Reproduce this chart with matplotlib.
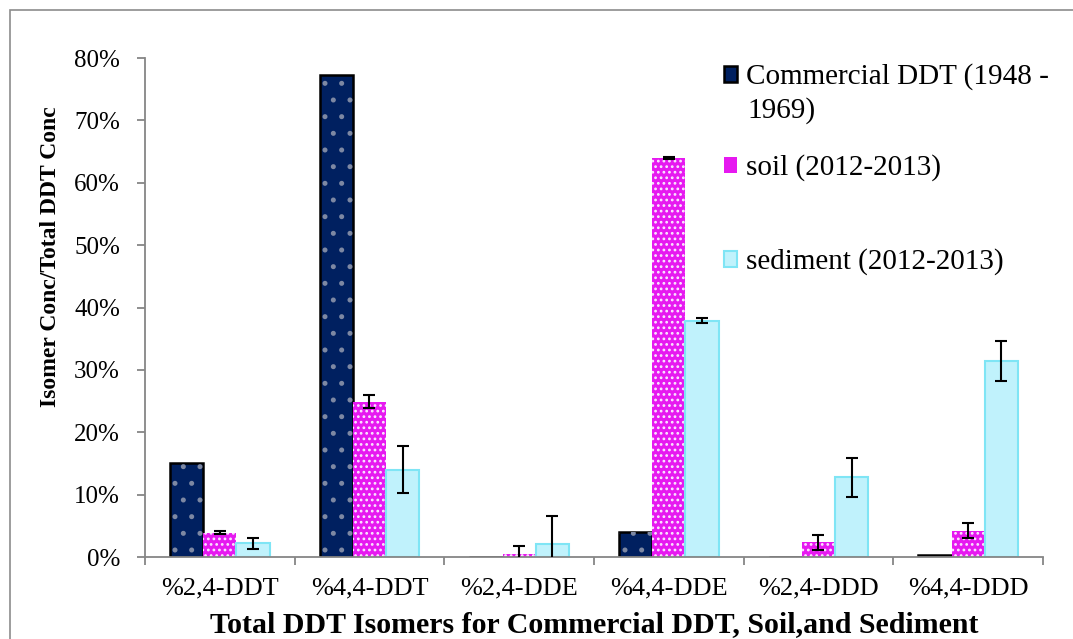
import matplotlib
matplotlib.use('Agg')
import matplotlib.pyplot as plt
from matplotlib.patches import Rectangle
from matplotlib.ticker import PercentFormatter
import numpy as np

plt.rcParams['font.family'] = ['Liberation Serif', 'DejaVu Serif']
plt.rcParams['hatch.linewidth'] = 1.2

# data (fractions of total DDT)
categories = ['%2,4-DDT', '%4,4-DDT', '%2,4-DDE', '%4,4-DDE', '%2,4-DDD', '%4,4-DDD']
commercial = [0.150, 0.772, 0.0, 0.040, 0.0, 0.003]
soil = [0.039, 0.249, 0.005, 0.640, 0.024, 0.042]
soil_err = [0.002, 0.010, 0.012, 0.002, 0.012, 0.012]
sediment = [0.022, 0.140, 0.021, 0.379, 0.128, 0.314]
sediment_err = [0.009, 0.038, 0.045, 0.004, 0.031, 0.032]
labels = ['Commercial DDT (1948 -', 'soil (2012-2013)', 'sediment (2012-2013)']

fig = plt.figure(figsize=(10.73, 6.39), dpi=100)
ax = fig.add_axes([0.1351, 0.1283, 0.8369, 0.7809])

x = np.arange(len(categories))
w = 0.222

# commercial: navy with grey dots
b1 = ax.bar(x - w, commercial, w, color='#002060', edgecolor='black', linewidth=1.8, zorder=2)
ax.bar(x - w, commercial, w, color='none', edgecolor='#7d88a3', linewidth=0, hatch='.', zorder=2)

# soil: magenta with white dot grid
b2 = ax.bar(x, soil, w, color='#e619f0', edgecolor='none', linewidth=0, zorder=2)
ax.bar(x, soil, w, color='none', edgecolor='#fbe6ff', linewidth=0, hatch='...', zorder=2)

# sediment: light cyan
b3 = ax.bar(x + w, sediment, w, color='#c0f2fc', edgecolor='#7fe5f5', linewidth=1.5, zorder=2)

ax.errorbar(x, soil, yerr=soil_err, fmt='none', ecolor='black', elinewidth=1.5,
            capsize=4.5, capthick=1.5, zorder=3)
ax.errorbar(x + w, sediment, yerr=sediment_err, fmt='none', ecolor='black', elinewidth=1.5,
            capsize=4.5, capthick=1.5, zorder=3)

ax.set_xlim(-0.5, len(categories) - 0.5)
ax.set_ylim(0, 0.8)
ax.set_yticks(np.arange(0, 0.81, 0.1))
ax.yaxis.set_major_formatter(PercentFormatter(1.0, decimals=0))
ax.set_xticks(x)
ax.set_xticklabels(categories)
ax.set_xticks(np.arange(-0.5, len(categories)), minor=True)

for s in ['top', 'right']:
    ax.spines[s].set_visible(False)
for s in ['left', 'bottom']:
    ax.spines[s].set_color('#868686')
    ax.spines[s].set_linewidth(1.3)

ax.tick_params(axis='y', direction='out', length=6, width=1.3, color='#868686',
               labelsize=18, pad=12)
ax.tick_params(axis='x', which='major', length=0, labelsize=19, pad=15)
ax.tick_params(axis='x', which='minor', direction='out', length=6, width=1.3, color='#868686')

ax.set_xlabel('Total DDT Isomers for Commercial DDT, Soil,and Sediment',
              fontsize=21.5, fontweight='bold', labelpad=8)
ax.set_ylabel('Isomer Conc/Total DDT Conc', fontsize=17, fontweight='bold')
ax.yaxis.set_label_coords(-0.094, 0.601)

# legend entries placed like the original
handles = [b1, b2, b3]
centers = [1 - 77 / 639, 1 - 168 / 639, 1 - 262 / 639]
for h, lab, cy in zip(handles, labels, centers):
    fig.legend([h], [lab], loc='center left', bbox_to_anchor=(0.675, cy), frameon=False,
               fontsize=21, handlelength=0.45, handleheight=0.45, handletextpad=0.3,
               borderaxespad=0, borderpad=0)
fig.text(0.697, 1 - 111 / 639, '1969)', fontsize=21, va='center', ha='left')

fig.patches.append(Rectangle((10 / 1073, -0.05), 1.1, 1 - 10 / 639 + 0.05,
                             transform=fig.transFigure, fill=False,
                             edgecolor='#8c8c8c', linewidth=1.2))

fig.savefig('out.png', dpi=100)
